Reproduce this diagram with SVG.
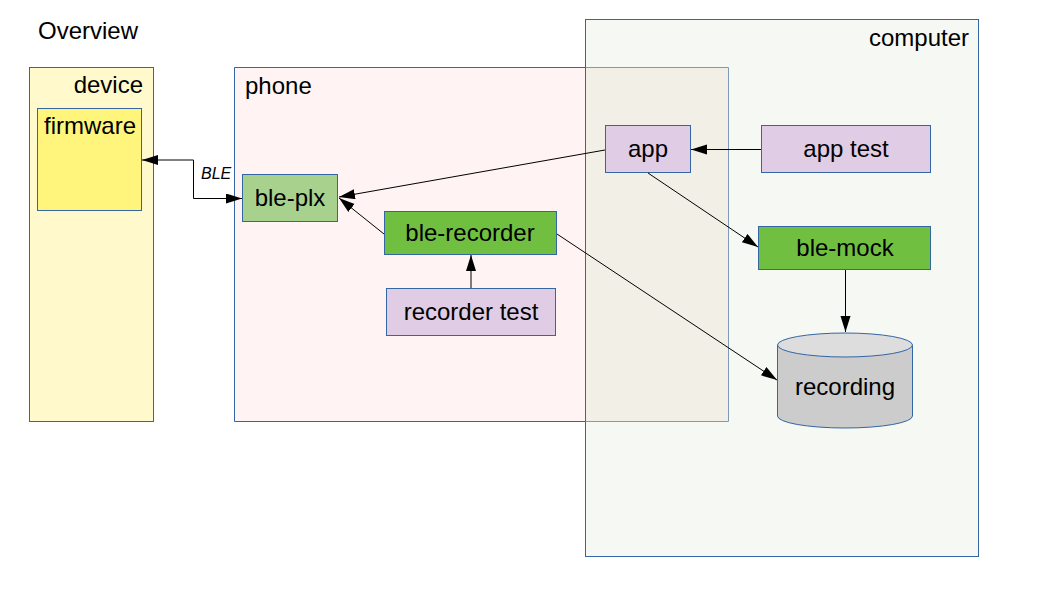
<svg xmlns="http://www.w3.org/2000/svg" width="1058" height="595" viewBox="0 0 1058 595">
<style>
text{font-family:"Liberation Sans",Arial,sans-serif;fill:#000}
.lbl{font-size:24px}
.node{stroke:#3465a4;stroke-width:1}
.c{text-anchor:middle}
.conn{fill:none;stroke:#000;stroke-width:1}
.green{fill:#70bf41}
.purple{fill:#e0cce5}
</style>
<defs>
<marker id="ah" markerUnits="userSpaceOnUse" markerWidth="17" markerHeight="11" refX="16" refY="5" orient="auto">
<path d="M0,0 L16,5 L0,10 z" fill="#000"/>
</marker>
<marker id="ahs" markerUnits="userSpaceOnUse" markerWidth="17" markerHeight="11" refX="16" refY="5" orient="auto-start-reverse">
<path d="M0,0 L16,5 L0,10 z" fill="#000"/>
</marker>
</defs>
<rect width="1058" height="595" fill="#fff"/>
<text x="38" y="39" class="lbl">Overview</text>

<g id="computer">
<rect x="585.5" y="19.5" width="393" height="537" fill="#f6f8f3" class="node"/>
<text x="969" y="46" class="lbl" text-anchor="end">computer</text>
</g>

<g id="phone">
<rect x="234.5" y="67.5" width="351" height="354" fill="#fff4f3"/>
<rect x="585.5" y="67.5" width="143" height="354" fill="#f2f0e6"/>
<path d="M585.5,67.5 H234.5 V421.5 H585.5" fill="none" stroke="#3465a4"/>
<path d="M585.5,67.5 H728.5 V421.5 H585.5" fill="none" stroke="#7f99b8"/>
<line x1="585.5" y1="67" x2="585.5" y2="422" stroke="#3465a4"/>
<text x="245" y="94" class="lbl">phone</text>
</g>

<g id="device">
<rect x="29.5" y="67.5" width="124" height="354" fill="#fff9cc" class="node"/>
<text x="143" y="93" class="lbl" text-anchor="end">device</text>
</g>

<g id="firmware">
<rect x="37.5" y="108.5" width="104" height="102" fill="#fff57c" class="node"/>
<text x="44" y="134" class="lbl">firmware</text>
</g>

<g id="ble-plx">
<rect x="242.5" y="174.5" width="95" height="47" fill="#a9d18e" class="node"/>
<text x="290" y="206" class="lbl c">ble-plx</text>
</g>

<g id="ble-recorder">
<rect x="384.5" y="211.5" width="172" height="43" class="node green"/>
<text x="470" y="241" class="lbl c">ble-recorder</text>
</g>

<g id="recorder-test">
<rect x="386.5" y="288.5" width="169" height="47" class="node purple"/>
<text x="471" y="320" class="lbl c">recorder test</text>
</g>

<g id="app">
<rect x="605.5" y="125.5" width="85" height="47" class="node purple"/>
<text x="648" y="157" class="lbl c">app</text>
</g>

<g id="app-test">
<rect x="761.5" y="125.5" width="169" height="47" class="node purple"/>
<text x="846" y="157" class="lbl c">app test</text>
</g>

<g id="ble-mock">
<rect x="758.5" y="226.5" width="172" height="43" class="node green"/>
<text x="845" y="256" class="lbl c">ble-mock</text>
</g>

<g id="recording">
<path d="M777.5,345 V416 A67.5,12 0 0 0 912.5,416 V345 Z" fill="#cccccc" stroke="#3465a4"/>
<ellipse cx="845" cy="345" rx="67.5" ry="12" fill="#dddddd" stroke="#3465a4"/>
<text x="845" y="395" class="lbl c">recording</text>
</g>

<g id="connectors">
<polyline points="142,160 193.5,160 193.5,198.5 242,198.5" class="conn" marker-start="url(#ahs)" marker-end="url(#ah)"/>
<text x="201" y="179" font-size="16" font-style="italic" fill="#333">BLE</text>
<line x1="605" y1="150" x2="339" y2="197" class="conn" marker-end="url(#ah)"/>
<line x1="384" y1="234" x2="339" y2="198" class="conn" marker-end="url(#ah)"/>
<line x1="471" y1="288" x2="471" y2="255" class="conn" marker-end="url(#ah)"/>
<line x1="761" y1="149.5" x2="691" y2="149.5" class="conn" marker-end="url(#ah)"/>
<line x1="648" y1="173" x2="758" y2="247" class="conn" marker-end="url(#ah)"/>
<line x1="557" y1="234" x2="777" y2="380" class="conn" marker-end="url(#ah)"/>
<line x1="845.5" y1="270" x2="845.5" y2="332" class="conn" stroke="#888" marker-end="url(#ah)"/>
</g>
</svg>
